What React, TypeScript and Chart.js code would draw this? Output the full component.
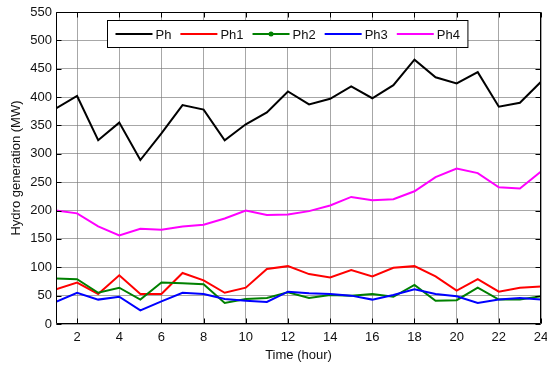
import React, { useEffect, useRef } from "react";
import { Chart, registerables } from "chart.js";

Chart.register(...registerables);

const hours = [1, 2, 3, 4, 5, 6, 7, 8, 9, 10, 11, 12, 13, 14, 15, 16, 17, 18, 19, 20, 21, 22, 23, 24];
const ph = [380, 402, 324, 355, 289, 336, 386, 378, 324, 352, 373, 410, 387, 397, 419, 398, 421, 466, 435, 424, 444, 383, 390, 427];
const ph1 = [61, 73, 53, 86, 53, 53, 90, 77, 55, 64, 97, 102, 88, 82, 95, 84, 99, 102, 84, 59, 79, 57, 64, 66];
const ph2 = [80, 79, 55, 64, 43, 73, 72, 70, 37, 44, 46, 56, 46, 51, 50, 53, 48, 69, 41, 42, 64, 43, 43, 49];
const ph3 = [39, 55, 43, 48, 24, 40, 55, 53, 44, 41, 39, 57, 54, 53, 50, 43, 51, 61, 53, 49, 37, 43, 46, 43];
const ph4 = [200, 195, 172, 156, 168, 166, 172, 175, 186, 200, 192, 193, 199, 209, 224, 218, 220, 234, 259, 274, 266, 241, 239, 269];
const seriesNames = ["Ph", "Ph1", "Ph2", "Ph3", "Ph4"];
const xTicks = [2, 4, 6, 8, 10, 12, 14, 16, 18, 20, 22, 24];
const yTicks = [0, 50, 100, 150, 200, 250, 300, 350, 400, 450, 500, 550];

const colors = ["#000000", "#ff0000", "#008000", "#0000ff", "#ff00ff"];
const FONT = "'Liberation Sans', Arial, sans-serif";

const framePlugin = {
  id: "frameLegend",
  afterDraw(chart: any) {
    const { ctx, chartArea } = chart;
    const { left, right, top, bottom } = chartArea;
    const xs = chart.scales.x;
    const ys = chart.scales.y;
    ctx.save();
    ctx.strokeStyle = "#000";
    ctx.lineWidth = 1;
    const L = Math.round(left) + 0.5;
    const R = Math.round(right) - 0.5;
    const T = Math.round(top) + 0.5;
    const B = Math.round(bottom) - 0.5;
    ctx.beginPath();
    ctx.rect(L, T, R - L, B - T);
    ctx.stroke();
    const tl = 5;
    ctx.beginPath();
    for (const v of xTicks) {
      const p = Math.round(xs.getPixelForValue(v)) + 0.5;
      ctx.moveTo(p, B);
      ctx.lineTo(p, B - tl);
      ctx.moveTo(p, T);
      ctx.lineTo(p, T + tl);
    }
    for (const v of yTicks) {
      const p = Math.round(ys.getPixelForValue(v)) + 0.5;
      ctx.moveTo(L, p);
      ctx.lineTo(L + tl, p);
      ctx.moveTo(R, p);
      ctx.lineTo(R - tl, p);
    }
    ctx.stroke();

    // legend
    ctx.font = `13px ${FONT}`;
    const bx = Math.round(left + 51) + 0.5;
    const by = Math.round(top + 8) + 0.5;
    const bh = 27;
    const lineLen = 37;
    const gapText = 3;
    const gapItem = 9;
    const padL = 8;
    let total = padL;
    const widths = seriesNames.map((n) => ctx.measureText(n).width);
    widths.forEach((w, i) => {
      total += lineLen + gapText + w + (i < widths.length - 1 ? gapItem : 0);
    });
    total += 8;
    ctx.fillStyle = "#fff";
    ctx.fillRect(bx, by, total, bh);
    ctx.strokeStyle = "#000";
    ctx.strokeRect(bx, by, total, bh);
    let cx = bx + padL;
    const cy = by + bh / 2;
    ctx.textBaseline = "middle";
    ctx.textAlign = "left";
    seriesNames.forEach((n, i) => {
      ctx.strokeStyle = colors[i];
      ctx.lineWidth = 2;
      ctx.beginPath();
      ctx.moveTo(cx, cy);
      ctx.lineTo(cx + lineLen, cy);
      ctx.stroke();
      if (i === 2) {
        ctx.fillStyle = colors[i];
        ctx.beginPath();
        ctx.arc(cx + lineLen / 2, cy, 2.5, 0, Math.PI * 2);
        ctx.fill();
      }
      cx += lineLen + gapText;
      ctx.fillStyle = "#111";
      ctx.fillText(n, cx, cy + 1);
      cx += widths[i] + gapItem;
    });
    ctx.restore();
  },
};

export default function App() {
  const ref = useRef<HTMLCanvasElement | null>(null);
  useEffect(() => {
    if (!ref.current) return;
    const seriesData = [ph, ph1, ph2, ph3, ph4];
    const chart = new Chart(ref.current, {
      type: "line",
      data: {
        datasets: seriesData.map((arr, i) => ({
          label: seriesNames[i],
          data: hours.map((h, j) => ({ x: h, y: arr[j] })),
          borderColor: colors[i],
          backgroundColor: colors[i],
          borderWidth: 2,
          pointRadius: 0,
          tension: 0,
          fill: false,
          order: 5 - i,
        })),
      },
      options: {
        animation: false,
        responsive: false,
        devicePixelRatio: 1,
        layout: { padding: { left: 0, right: 6, top: 12, bottom: 0 } },
        plugins: { legend: { display: false }, tooltip: { enabled: false } },
        scales: {
          x: {
            type: "linear",
            min: 1,
            max: 24,
            afterBuildTicks: (s: any) => {
              s.ticks = xTicks.map((v) => ({ value: v }));
            },
            afterFit: (s: any) => {
              s.height = 48;
              s.paddingLeft = 0;
              s.paddingRight = 0;
            },
            grid: { color: "rgba(120,120,120,0.65)", lineWidth: 1, drawTicks: false },
            border: { display: false },
            ticks: { color: "#111", font: { family: FONT, size: 13 }, padding: 6, maxRotation: 0, autoSkip: false },
            title: { display: true, text: "Time (hour)", color: "#111", font: { family: FONT, size: 13 }, padding: { top: 0, bottom: 9 } },
          },
          y: {
            type: "linear",
            min: 0,
            max: 550,
            afterBuildTicks: (s: any) => {
              s.ticks = yTicks.map((v) => ({ value: v }));
            },
            afterFit: (s: any) => {
              s.width = 56;
              s.paddingTop = 0;
              s.paddingBottom = 0;
            },
            grid: { color: "rgba(120,120,120,0.65)", lineWidth: 1, drawTicks: false },
            border: { display: false },
            ticks: { color: "#111", font: { family: FONT, size: 13 }, padding: 4, autoSkip: false },
            title: { display: true, text: "Hydro generation (MW)", color: "#111", font: { family: FONT, size: 13 }, padding: { top: 9, bottom: 0 } },
          },
        },
      },
      plugins: [framePlugin],
    });
    return () => chart.destroy();
  }, []);
  return (
    <div style={{ position: "fixed", left: 0, top: 0, width: 547, height: 372, background: "#fff" }}>
      <canvas ref={ref} width={547} height={372} />
    </div>
  );
}
